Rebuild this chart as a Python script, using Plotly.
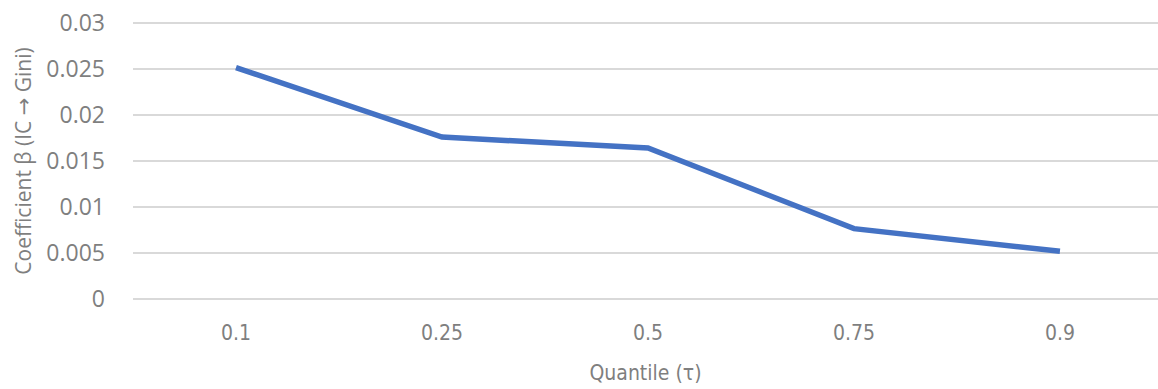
import plotly.graph_objects as go

quantiles = ["0.1", "0.25", "0.5", "0.75", "0.9"]
beta = [0.02515, 0.01761, 0.01641, 0.00765, 0.00518]
y_ticks = [0, 0.005, 0.01, 0.015, 0.02, 0.025, 0.03]
y_tick_text = ["0", "0.005", "0.01", "0.015", "0.02", "0.025", "0.03"]

fig = go.Figure()
fig.add_trace(go.Scatter(
    x=list(range(len(quantiles))), y=beta, mode="lines",
    line=dict(color="#4472C4", width=5.5),
    hoverinfo="skip", showlegend=False,
))

font_family = "Open Sans, Segoe UI, sans-serif"
narrow = "Liberation Sans Narrow, DejaVu Sans Condensed, sans-serif"
fig.update_layout(
    width=1158, height=389,
    margin=dict(l=133, r=0, t=22, b=89),
    paper_bgcolor="white", plot_bgcolor="white",
    font=dict(family=font_family, color="#7f7f7f"),
    xaxis=dict(
        range=[-0.5, 4.476], automargin=False,
        tickmode="array", tickvals=list(range(len(quantiles))), ticktext=quantiles,
        showgrid=False, zeroline=False, showline=False, ticks="",
        tickfont=dict(family=narrow, size=21, color="#7f7f7f"),
        ticklabelstandoff=18,
        title=dict(text="Quantile (τ)", font=dict(family=narrow, size=21, color="#7f7f7f"), standoff=21),
    ),
    yaxis=dict(
        range=[-0.00011, 0.03011], automargin=False,
        tickmode="array", tickvals=y_ticks, ticktext=y_tick_text,
        showgrid=True, gridcolor="#d9d9d9", gridwidth=1.5,
        zeroline=False, showline=False, ticks="",
        tickfont=dict(size=23, color="#7f7f7f"),
        ticklabelstandoff=27, ticklabeloverflow="allow",
        title=dict(text="Coefficient β (IC <span style='font-family:DejaVu Sans'>→</span> Gini)",
                   font=dict(size=21, color="#7f7f7f"), standoff=8),
    ),
)

fig.write_html("out.html", config={"displayModeBar": False},
               post_script="document.body.style.margin='0';")
